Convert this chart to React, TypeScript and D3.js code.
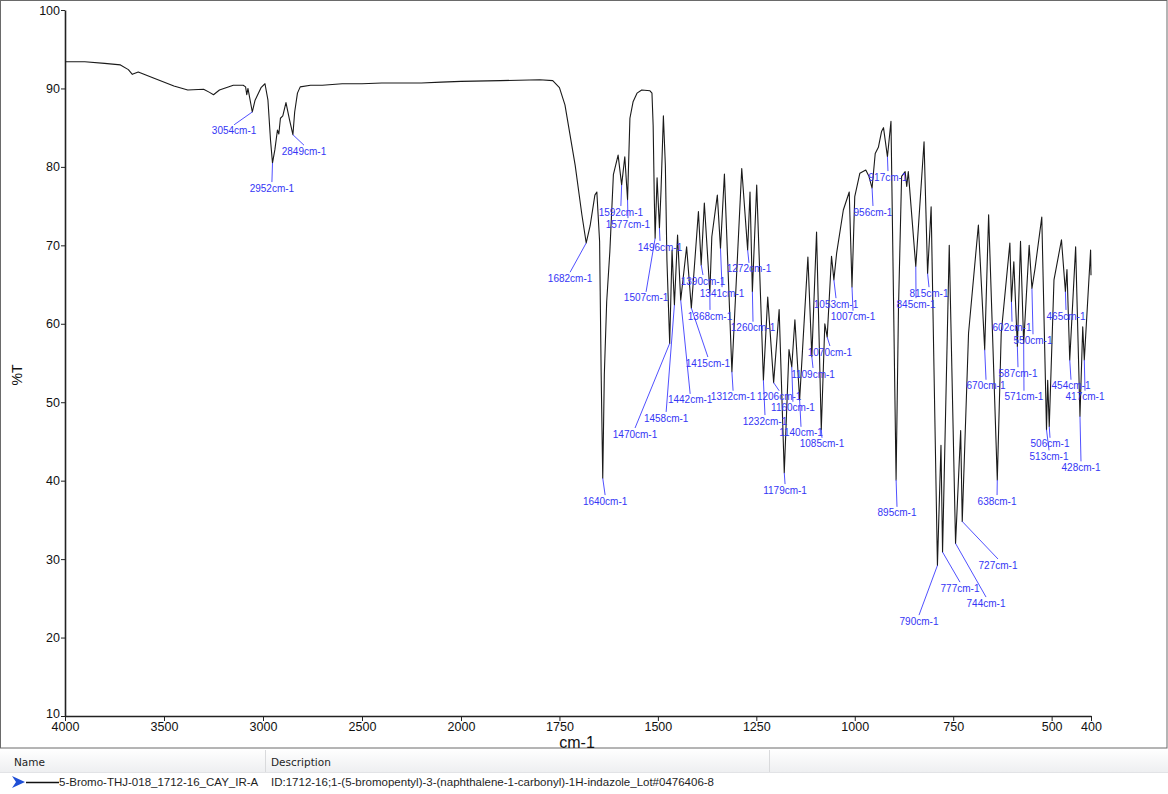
import React, { useRef, useEffect } from 'react';
import * as d3 from 'd3';

// spectrum vertices: [wavenumber cm-1, %T]
const spectrum: [number, number][] = [
  [4000, 93.4], [3900, 93.4], [3800, 93.2], [3720, 93.0], [3680, 92.4], [3660, 91.8], [3630, 92.1],
  [3550, 91.3], [3450, 90.3], [3380, 89.8], [3300, 89.9], [3270, 89.5], [3250, 89.2], [3220, 89.8],
  [3150, 90.4], [3100, 90.4], [3088, 90.2], [3082, 89.2], [3076, 90.0], [3054, 87.0], [3040, 88.5],
  [3010, 90.1], [2990, 90.6], [2975, 88.5], [2962, 83.4], [2952, 80.5], [2940, 82.2], [2927, 84.7],
  [2920, 84.2], [2912, 86.2], [2900, 86.5], [2884, 88.2], [2866, 86.0], [2849, 84.1], [2840, 87.0],
  [2826, 89.4], [2812, 90.2], [2760, 90.4], [2700, 90.4], [2600, 90.6], [2500, 90.6], [2400, 90.7],
  [2300, 90.7], [2200, 90.7], [2100, 90.8], [2000, 90.9], [1900, 91.0], [1800, 91.1], [1767, 91.0],
  [1750, 90.1], [1736, 87.9], [1710, 80.2], [1693, 73.9], [1682, 70.3], [1672, 72.5], [1660, 76.4],
  [1655, 76.8], [1648, 70.5], [1644, 53.5], [1640, 40.3], [1636, 53.5], [1630, 62.8], [1622, 69.2],
  [1613, 79.0], [1601, 81.5], [1592, 77.7], [1584, 81.3], [1577, 75.8], [1571, 86.2], [1563, 88.3],
  [1553, 89.4], [1541, 89.8], [1520, 89.7], [1515, 89.4], [1512, 85.3], [1509, 75.8], [1507, 70.9],
  [1502, 78.6], [1496, 72.2], [1492, 77.0], [1486, 86.5], [1481, 80.2], [1477, 68.1], [1470, 57.5],
  [1464, 69.4], [1458, 62.4], [1450, 71.3], [1442, 63.0], [1427, 69.8], [1415, 62.0], [1397, 74.3],
  [1390, 67.5], [1382, 75.4], [1368, 64.0], [1363, 71.1], [1349, 76.4], [1341, 69.6], [1331, 79.1],
  [1312, 53.9], [1287, 79.8], [1272, 69.4], [1266, 76.8], [1260, 64.1], [1249, 77.7], [1232, 52.8],
  [1221, 63.4], [1206, 52.5], [1192, 61.8], [1179, 41.0], [1167, 56.7], [1160, 54.5], [1152, 60.5],
  [1140, 50.3], [1119, 68.5], [1109, 55.8], [1097, 71.7], [1085, 46.5], [1076, 60.0], [1070, 58.3],
  [1059, 68.6], [1053, 65.6], [1046, 69.0], [1029, 74.5], [1014, 76.8], [1007, 64.7], [1000, 76.2],
  [987, 79.2], [972, 79.6], [964, 78.8], [956, 77.3], [948, 81.7], [940, 82.5], [932, 84.5],
  [927, 85.0], [917, 81.3], [908, 85.8], [895, 40.1], [889, 61.8], [881, 78.8], [872, 79.4],
  [868, 77.5], [864, 79.4], [845, 67.3], [824, 83.2], [815, 66.4], [806, 74.9], [790, 29.2],
  [781, 44.5], [777, 30.9], [760, 70.0], [744, 32.0], [731, 46.4], [727, 34.8], [711, 58.8],
  [686, 72.6], [670, 56.7], [660, 73.9], [638, 40.1], [628, 58.8], [606, 70.3], [602, 62.8],
  [596, 67.9], [587, 57.1], [579, 70.5], [571, 57.5], [557, 70.0], [550, 64.5], [542, 67.1],
  [525, 73.6], [513, 46.5], [510, 52.8], [506, 46.9], [494, 65.6], [475, 70.7], [465, 64.1],
  [461, 66.9], [454, 55.4], [439, 69.8], [428, 48.2], [421, 59.6], [417, 55.4], [401, 69.4],
  [400, 66.2]
];

// picked peaks and where their labels sit, [wavenumber, %T] of text centre
const peakWn = [
  3054, 2952, 2849, 1682, 1640, 1592, 1577, 1496, 1507, 1470, 1458, 1442, 1415, 1390, 1368, 1341,
  1312, 1272, 1260, 1232, 1206, 1179, 1160, 1140, 1109, 1085, 1070, 1053, 1007, 956, 917, 895,
  845, 815, 790, 777, 744, 727, 670, 638, 602, 587, 571, 550, 506, 513, 465, 454, 417, 428
];
const labelAt: [number, number][] = [
  [3146, 84.6], [2955, 77.3], [2793, 82.0], [1723, 65.8], [1634, 37.4], [1594, 74.25], [1576, 72.7],
  [1494.6, 69.8], [1530, 63.3], [1558, 45.95], [1479, 48.0], [1418, 50.3], [1373, 55.0],
  [1385.4, 65.45], [1367.6, 61.0], [1337, 63.9], [1309, 50.7], [1268.6, 67.0], [1258.4, 59.5],
  [1228, 47.6], [1192, 50.7], [1177, 38.8], [1157, 49.3], [1136.5, 46.1], [1106, 53.6],
  [1083.2, 44.7], [1063, 56.4], [1047.6, 62.5], [1004.4, 60.9], [953.7, 74.25], [915.6, 78.7],
  [892.7, 35.9], [844.4, 62.5], [811.4, 63.9], [836.8, 22.1], [732.7, 26.3], [666.6, 24.4],
  [636.2, 29.25], [666.6, 52.1], [638.6, 37.4], [600.6, 59.5], [585.4, 53.7], [570.2, 50.7],
  [547.3, 57.9], [504.1, 44.7], [506.6, 43.1], [463.5, 61.0], [450.8, 52.1], [415.2, 50.7],
  [425.4, 41.7]
];

const xTicks = [4000, 3500, 3000, 2500, 2000, 1750, 1500, 1250, 1000, 750, 500, 400];
const yTicks = [10, 20, 30, 40, 50, 60, 70, 80, 90, 100];

const sampleName = '5-Bromo-THJ-018_1712-16_CAY_IR-A';
const sampleDesc = 'ID:1712-16;1-(5-bromopentyl)-3-(naphthalene-1-carbonyl)-1H-indazole_Lot#0476406-8';

const W = 1168;
const H = 794;

const App: React.FC = () => {
  const ref = useRef<SVGSVGElement>(null);

  useEffect(() => {
    document.body.style.margin = '0';
    const svg = d3.select(ref.current);
    svg.selectAll('*').remove();

    const font = '"Liberation Sans", Arial, sans-serif';

    // wavenumber axis has a scale change at 2000 cm-1
    const x = d3.scaleLinear().domain([4000, 2000, 400]).range([65, 461, 1091]);
    const y = d3.scaleLinear().domain([10, 100]).range([716, 10]);

    svg.append('rect')
      .attr('width', W).attr('height', H).attr('fill', '#fff');

    // legend table under the plot
    const defs = svg.append('defs');
    const grad = defs.append('linearGradient').attr('id', 'hdr').attr('x1', 0).attr('y1', 0).attr('x2', 0).attr('y2', 1);
    grad.append('stop').attr('offset', '0%').attr('stop-color', '#ffffff');
    grad.append('stop').attr('offset', '100%').attr('stop-color', '#eeeff1');

    svg.append('rect')
      .attr('x', 0).attr('y', 749).attr('width', W).attr('height', 23)
      .attr('fill', 'url(#hdr)');
    svg.append('line')
      .attr('x1', 0).attr('x2', W).attr('y1', 772.5).attr('y2', 772.5)
      .attr('stroke', '#e2e3e6');
    [265, 769].forEach(cx => {
      svg.append('line')
        .attr('x1', cx + 0.5).attr('x2', cx + 0.5).attr('y1', 750).attr('y2', 772)
        .attr('stroke', '#d9dadc');
    });

    const tfont = '"DejaVu Sans", "Liberation Sans", sans-serif';
    svg.append('text').attr('x', 14).attr('y', 766)
      .attr('font-family', tfont).attr('font-size', 10.5).attr('fill', '#1e1e1e').text('Name');
    svg.append('text').attr('x', 271).attr('y', 766)
      .attr('font-family', tfont).attr('font-size', 10.5).attr('fill', '#1e1e1e').text('Description');

    svg.append('path')
      .attr('d', 'M12,776 L25,782 L12,788 L16,782 Z')
      .attr('fill', '#1f4fd6');
    svg.append('line')
      .attr('x1', 26).attr('x2', 59).attr('y1', 782.5).attr('y2', 782.5)
      .attr('stroke', '#111').attr('stroke-width', 1.5);
    svg.append('text').attr('x', 59).attr('y', 786)
      .attr('font-family', font).attr('font-size', 11.5).attr('fill', '#1e1e1e').text(sampleName);
    svg.append('text').attr('x', 271).attr('y', 786)
      .attr('font-family', font).attr('font-size', 11.5).attr('fill', '#1e1e1e').text(sampleDesc);

    // frame of the plot panel
    svg.append('rect')
      .attr('x', 0.5).attr('y', 0.5).attr('width', W - 1.5).attr('height', 747.5)
      .attr('fill', 'none').attr('stroke', '#6a6a6a');

    const gy = svg.append('g')
      .attr('transform', 'translate(65,0)')
      .call(d3.axisLeft(y).tickValues(yTicks).tickSize(4).tickPadding(1).tickSizeOuter(0));
    const gx = svg.append('g')
      .attr('transform', 'translate(0,716)')
      .call(d3.axisBottom(x).tickValues(xTicks).tickFormat(d3.format('d')).tickSize(5).tickPadding(1).tickSizeOuter(0));

    [gx, gy].forEach(g => {
      g.select('.domain').attr('stroke', '#222').attr('stroke-width', 1.6);
      g.selectAll('.tick line').attr('stroke', '#222');
      g.selectAll('.tick text')
        .attr('fill', '#111').attr('font-size', 12.5).attr('font-family', font);
    });
    // the bottom y label sits just above the first x label
    gy.selectAll('.tick text').filter((d: any) => d === 10).attr('dy', '0.1em');

    svg.append('text')
      .attr('transform', 'translate(22,375) rotate(-90)')
      .attr('text-anchor', 'middle')
      .attr('font-family', font).attr('font-size', 14).attr('fill', '#111')
      .text('%T');

    svg.append('text')
      .attr('x', 577).attr('y', 748)
      .attr('text-anchor', 'middle')
      .attr('font-family', font).attr('font-size', 16).attr('fill', '#111')
      .text('cm-1');

    const line = d3.line<[number, number]>()
      .x(d => x(d[0]))
      .y(d => y(d[1]));

    svg.append('path')
      .datum(spectrum)
      .attr('fill', 'none')
      .attr('stroke', '#1a1a1a')
      .attr('stroke-width', 1.1)
      .attr('stroke-linejoin', 'round')
      .attr('d', line);

    // peak labels with leader lines
    const tOf = (wn: number) => (spectrum.find(d => d[0] === wn) || [wn, 50])[1];
    const lab = svg.append('g');
    peakWn.forEach((wn, i) => {
      const [lw, lt] = labelAt[i];
      lab.append('line')
        .attr('x1', x(wn)).attr('y1', y(tOf(wn)))
        .attr('x2', x(lw)).attr('y2', y(lt) - 6)
        .attr('stroke', '#3c3cff').attr('stroke-width', 0.9);
      lab.append('text')
        .attr('x', x(lw)).attr('y', y(lt) + 3.6)
        .attr('text-anchor', 'middle')
        .attr('font-family', font).attr('font-size', 10).attr('fill', '#3535f5')
        .text(`${wn}cm-1`);
    });
  }, []);

  return <svg ref={ref} width={W} height={H} style={{ display: 'block' }} />;
};

export default App;
